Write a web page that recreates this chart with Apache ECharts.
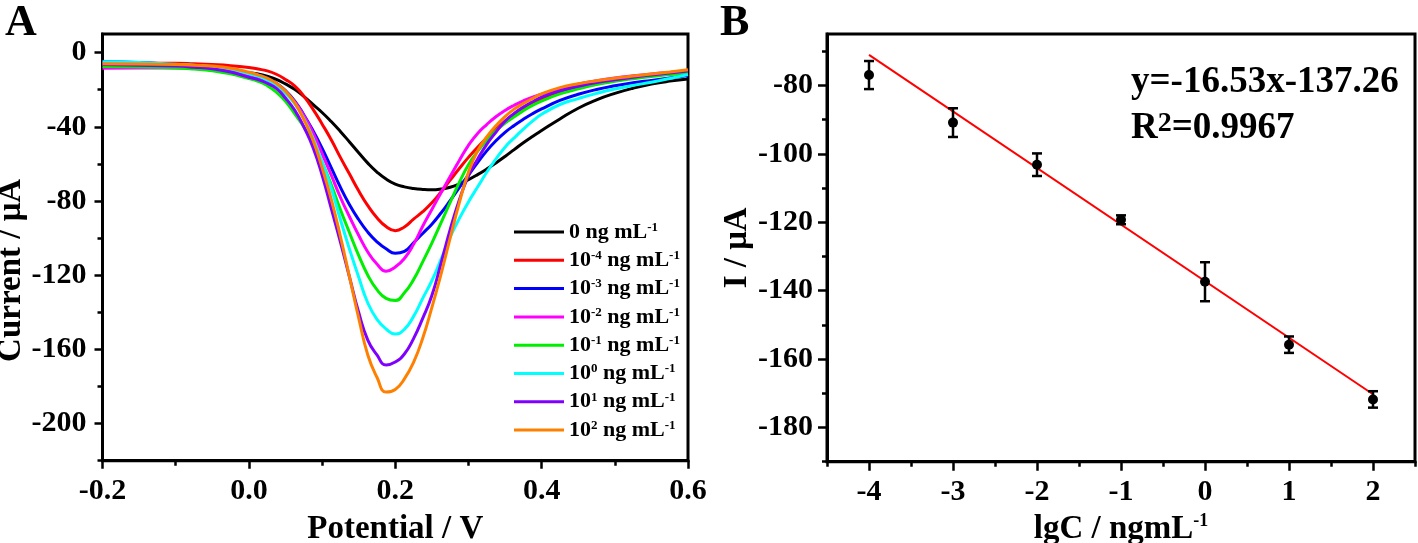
<!DOCTYPE html>
<html><head><meta charset="utf-8">
<script src="https://cdn.jsdelivr.net/npm/echarts@6/dist/echarts.min.js"></script>
<style>html,body{margin:0;padding:0;background:#fff}#c{width:1418px;height:543px}</style>
</head><body><div id="c"></div>
<script>
// ---------- Panel A data (DPV curves) ----------
const potential = [-0.2,-0.15,-0.1,-0.075,-0.05,-0.025,
  0,0.0125,0.025,0.0375,0.05,0.0625,0.075,0.0875,0.1,0.1125,0.125,0.1375,0.15,0.1625,0.175,0.1875,0.2,
  0.2125,0.225,0.2375,0.25,0.2625,0.275,0.2875,0.3,0.3125,0.325,0.3375,0.35,0.3625,0.375,0.3875,0.4,
  0.425,0.45,0.475,0.5,0.525,0.55,0.575,0.6];
const cur0  = [-5.6,-5.9,-6.6,-7.2,-8.0,-9.3,
  -10.9,-11.6,-12.8,-14.5,-16.9,-19.8,-23.6,-28.0,-32.3,-37.2,-42.5,-48.2,-54.0,-59.6,-64.4,-68.2,-70.9,
  -72.4,-73.3,-73.8,-74.0,-73.6,-72.6,-70.8,-68.5,-65.8,-62.8,-59.5,-56.0,-52.3,-48.6,-45.2,-42.0,
  -35.8,-30.0,-25.5,-22.0,-19.2,-17.0,-15.4,-14.2];
const curM4 = [-5.6,-5.7,-5.8,-6.1,-6.5,-7.1,
  -8.1,-8.9,-9.9,-11.7,-14.5,-18.0,-23.5,-30.5,-38.5,-47.0,-56.5,-65.5,-74.5,-82.5,-89.0,-93.8,-96.0,
  -94.0,-89.8,-85.8,-81.0,-75.2,-68.8,-62.5,-56.5,-51.0,-46.0,-41.3,-37.0,-33.2,-30.0,-27.5,-25.3,
  -21.5,-18.4,-16.1,-14.5,-13.3,-12.3,-11.6,-11.0];
const curM3 = [-4.9,-5.3,-6.5,-7.2,-8.2,-9.7,
  -11.3,-12.0,-13.8,-16.5,-20.5,-26.0,-33.5,-42.0,-51.5,-62.0,-72.5,-82.0,-90.0,-96.8,-102.0,-105.8,-108.2,
  -107.2,-102.5,-97.5,-92.5,-86.5,-79.8,-72.8,-66.0,-59.3,-53.0,-47.6,-43.0,-39.3,-36.0,-33.0,-30.4,
  -25.8,-22.5,-19.9,-17.9,-16.3,-15.0,-13.7,-12.4];
const curM2 = [-8.5,-8.3,-8.3,-8.5,-9.0,-10.0,
  -12.0,-13.0,-14.8,-17.5,-21.5,-26.5,-34.0,-43.0,-54.5,-66.0,-78.0,-88.5,-98.5,-107.5,-114.0,-117.9,-115.6,
  -111.0,-103.4,-93.6,-84.6,-75.6,-66.8,-58.2,-50.0,-43.6,-38.8,-34.6,-31.2,-28.4,-26.0,-24.0,-22.4,
  -19.6,-17.0,-15.2,-13.7,-12.5,-11.5,-10.7,-10.0];
const curM1 = [-7.5,-7.8,-8.3,-8.9,-9.8,-11.5,
  -14.0,-15.5,-17.8,-21.3,-26.2,-32.9,-40.0,-48.5,-59.0,-71.1,-84.6,-97.1,-109.3,-120.0,-127.8,-132.5,-133.7,
  -129.5,-122.4,-112.8,-102.7,-91.8,-80.8,-70.0,-60.5,-53.3,-47.3,-42.3,-38.0,-34.6,-31.3,-28.5,-26.2,
  -22.3,-19.6,-17.3,-15.5,-14.1,-12.9,-11.9,-11.0];
const curP0 = [-4.9,-5.3,-6.3,-6.8,-7.6,-9.0,
  -11.5,-12.8,-14.8,-17.8,-22.0,-27.5,-35.5,-46.0,-59.0,-73.0,-90.0,-106.0,-121.0,-135.0,-143.8,-149.0,-151.7,
  -149.2,-142.2,-132.5,-123.0,-111.5,-99.5,-89.5,-80.5,-72.5,-64.5,-57.5,-51.0,-46.0,-41.3,-37.0,-33.3,
  -28.0,-24.8,-22.0,-19.6,-17.7,-16.0,-14.0,-11.9];
const curP1 = [-6.5,-6.8,-7.3,-7.9,-8.8,-10.5,
  -13.3,-14.5,-16.5,-19.3,-24.5,-31.0,-40.0,-51.0,-66.0,-84.0,-102.0,-121.0,-140.0,-155.0,-163.0,-168.4,-166.8,
  -162.5,-154.2,-143.3,-131.0,-113.7,-95.5,-79.5,-66.5,-57.5,-49.5,-43.0,-37.0,-32.8,-29.4,-26.5,-24.0,
  -20.6,-18.2,-16.2,-14.7,-13.3,-12.1,-11.0,-10.0];
const curP2 = [-6.1,-6.2,-6.5,-6.8,-7.3,-8.5,
  -10.6,-12.0,-13.8,-16.5,-20.8,-27.0,-36.0,-47.0,-62.0,-79.0,-99.0,-121.0,-143.0,-163.0,-175.0,-183.0,-181.6,
  -175.9,-167.0,-154.0,-137.5,-119.5,-100.0,-81.0,-64.5,-53.0,-45.5,-39.5,-34.5,-30.5,-27.5,-24.8,-22.3,
  -18.9,-16.8,-15.2,-13.8,-12.7,-11.6,-10.5,-9.3];
const curves = [cur0, curM4, curM3, curM2, curM1, curP0, curP1, curP2];
const seriesNames = ['0 ng mL^-1','10^-4 ng mL^-1','10^-3 ng mL^-1','10^-2 ng mL^-1','10^-1 ng mL^-1','10^0 ng mL^-1','10^1 ng mL^-1','10^2 ng mL^-1'];
const seriesColors = ['#000000','#ff0000','#0000ff','#ff00ff','#00ee00','#00ffff','#8000ff','#ff8000'];
const aXTicks = [-0.2, 0, 0.2, 0.4, 0.6];
const aXMinor = [-0.1, 0.1, 0.3, 0.5];
const aYTicks = [0, -40, -80, -120, -160, -200];
const aYMinor = [-20, -60, -100, -140, -180, -220];

// ---------- Panel B data (calibration) ----------
const lgC = [-4, -3, -2, -1, 0, 1, 2];
const peakCurrent = [-77.0, -90.9, -103.2, -119.3, -137.4, -155.8, -171.8];
const errBar = [4.1, 4.2, 3.3, 1.3, 5.7, 2.4, 2.4];
const fitX = [-4, 2];
const fitY = [-71.1, -170.3];
const bXTicks = [-4, -3, -2, -1, 0, 1, 2];
const bXMinor = [-4.5, -3.5, -2.5, -1.5, -0.5, 0.5, 1.5, 2.5];
const bYTicks = [-180, -160, -140, -120, -100, -80];
const bYMinor = [-190, -170, -150, -130, -110, -90, -70];

const FONT = 'Liberation Serif';
const chart = echarts.init(document.getElementById('c'), null, {renderer: 'canvas'});

function supFormat(name) {
  const parts = name.split(/\^(-?\d+)/);
  let s = '';
  parts.forEach((p, i) => { if (p !== '') s += (i % 2 ? '{s|' : '{n|') + p + '}'; });
  return s;
}

const axisLineStyle = {show: true, onZero: false, lineStyle: {color: '#000', width: 3}};
function majorAxis(extra) {
  return Object.assign({
    type: 'value', axisLine: axisLineStyle, splitLine: {show: false},
    nameTextStyle: {color: '#000', fontFamily: FONT, fontWeight: 'bold', fontSize: 33}
  }, extra);
}
function minorAxis(extra, ticks) {
  return Object.assign({
    type: 'value', axisLine: {show: false, onZero: false}, splitLine: {show: false},
    axisLabel: {show: false},
    axisTick: {show: true, inside: false, length: 5, customValues: ticks, lineStyle: {color: '#000', width: 2.5}}
  }, extra);
}
function labelStyle(ticks, fmt, margin) {
  return {customValues: ticks, formatter: fmt, margin: margin, color: '#000', fontFamily: FONT, fontWeight: 'bold', fontSize: 30};
}
function tickStyle(ticks, len) {
  return {show: true, inside: false, length: len, customValues: ticks, lineStyle: {color: '#000', width: 2.5}};
}

const lineSeries = curves.map((c, k) => ({
  name: seriesNames[k], type: 'line', xAxisIndex: 0, yAxisIndex: 0,
  data: potential.map((v, i) => [v, c[i]]),
  symbol: 'none', showSymbol: false, smooth: 0.5,
  lineStyle: {color: seriesColors[k], width: 3}, itemStyle: {color: seriesColors[k]}
}));

const option = {
  animation: false,
  backgroundColor: '#fff',
  textStyle: {fontFamily: FONT, fontWeight: 'bold', color: '#000'},
  grid: [
    {left: 102.5, top: 34, width: 585.5, height: 426.7, outerBoundsMode: 'none', containLabel: false, show: true, borderColor: '#000', borderWidth: 3, backgroundColor: 'transparent'},
    {left: 827, top: 34, width: 588, height: 427.7, outerBoundsMode: 'none', containLabel: false, show: true, borderColor: '#000', borderWidth: 3, backgroundColor: 'transparent'}
  ],
  xAxis: [
    majorAxis({gridIndex: 0, position: 'bottom', min: -0.2, max: 0.6,
      axisTick: tickStyle(aXTicks, 8),
      axisLabel: labelStyle(aXTicks, v => v.toFixed(1), 16),
      name: 'Potential / V', nameLocation: 'middle', nameGap: 52}),
    minorAxis({gridIndex: 0, position: 'bottom', min: -0.2, max: 0.6}, aXMinor),
    majorAxis({gridIndex: 1, position: 'bottom', min: -4.5, max: 2.5,
      axisTick: tickStyle(bXTicks, 9),
      axisLabel: labelStyle(bXTicks, v => String(v), 16),
      name: '{n|lgC / ngmL}{s|-1}', nameLocation: 'middle', nameGap: 42,
      nameTextStyle: {rich: {
        n: {fontFamily: FONT, fontWeight: 'bold', fontSize: 33, color: '#000', lineHeight: 34},
        s: {fontFamily: FONT, fontWeight: 'bold', fontSize: 18, color: '#000', lineHeight: 18, verticalAlign: 'top'}}}}),
    minorAxis({gridIndex: 1, position: 'bottom', min: -4.5, max: 2.5}, bXMinor)
  ],
  yAxis: [
    majorAxis({gridIndex: 0, position: 'left', min: -220, max: 10,
      axisTick: tickStyle(aYTicks, 8),
      axisLabel: labelStyle(aYTicks, v => String(v), 16),
      name: 'Current / μA', nameLocation: 'middle', nameGap: 66,
      nameTextStyle: {color: '#000', fontFamily: FONT, fontWeight: 'bold', fontSize: 33, padding: [0, 46, 0, 0]}}),
    minorAxis({gridIndex: 0, position: 'left', min: -220, max: 10}, aYMinor),
    majorAxis({gridIndex: 1, position: 'left', min: -190, max: -65,
      axisTick: tickStyle(bYTicks, 9),
      axisLabel: labelStyle(bYTicks, v => String(v), 14),
      name: 'I / μA', nameLocation: 'middle', nameGap: 72}),
    minorAxis({gridIndex: 1, position: 'left', min: -190, max: -65}, bYMinor)
  ],
  legend: {
    data: seriesNames, orient: 'vertical', left: 509, top: 216,
    icon: 'rect', itemWidth: 50, itemHeight: 3, itemGap: 6.3,
    formatter: supFormat,
    textStyle: {rich: {
      n: {fontFamily: FONT, fontWeight: 'bold', fontSize: 22, color: '#000', lineHeight: 22},
      s: {fontFamily: FONT, fontWeight: 'bold', fontSize: 13, color: '#000', lineHeight: 12, verticalAlign: 'top'}
    }}
  },
  graphic: [
    {type: 'text', left: 5, top: 2, style: {text: 'A', font: 'bold 44px "Liberation Serif"', fill: '#000'}},
    {type: 'text', left: 720, top: 2, style: {text: 'B', font: 'bold 44px "Liberation Serif"', fill: '#000'}},
    {type: 'text', x: 1131, y: 82, style: {text: 'y=-16.53x-137.26', font: 'bold 37px "Liberation Serif"', fill: '#000', verticalAlign: 'middle'}},
    {type: 'text', x: 1131, y: 128, style: {text: '{m|R}{s|2}{m|=0.9967}', verticalAlign: 'middle',
      rich: {m: {font: 'bold 37px "Liberation Serif"', fill: '#000', lineHeight: 36},
             s: {font: 'bold 28px "Liberation Serif"', fill: '#000', lineHeight: 26, verticalAlign: 'top'}}}}
  ],
  series: lineSeries.concat([
    {name: 'fit', type: 'line', xAxisIndex: 2, yAxisIndex: 2, symbol: 'none',
     data: fitX.map((x, i) => [x, fitY[i]]), lineStyle: {color: '#ff0000', width: 2}, z: 2},
    {name: 'error', type: 'custom', xAxisIndex: 2, yAxisIndex: 2, z: 3,
     data: lgC.map((x, i) => [x, peakCurrent[i] - errBar[i], peakCurrent[i] + errBar[i]]),
     renderItem: function (params, api) {
       const x = api.value(0);
       const lo = api.coord([x, api.value(1)]);
       const hi = api.coord([x, api.value(2)]);
       const cap = 5;
       const st = {stroke: '#000', lineWidth: 2.5};
       return {type: 'group', children: [
         {type: 'line', shape: {x1: lo[0], y1: lo[1], x2: hi[0], y2: hi[1]}, style: st},
         {type: 'line', shape: {x1: lo[0] - cap, y1: lo[1], x2: lo[0] + cap, y2: lo[1]}, style: st},
         {type: 'line', shape: {x1: hi[0] - cap, y1: hi[1], x2: hi[0] + cap, y2: hi[1]}, style: st}
       ]};
     }},
    {name: 'points', type: 'scatter', xAxisIndex: 2, yAxisIndex: 2, z: 4,
     data: lgC.map((x, i) => [x, peakCurrent[i]]), symbol: 'circle', symbolSize: 10,
     itemStyle: {color: '#000', opacity: 1}}
  ])
};
chart.setOption(option);
</script></body></html>
